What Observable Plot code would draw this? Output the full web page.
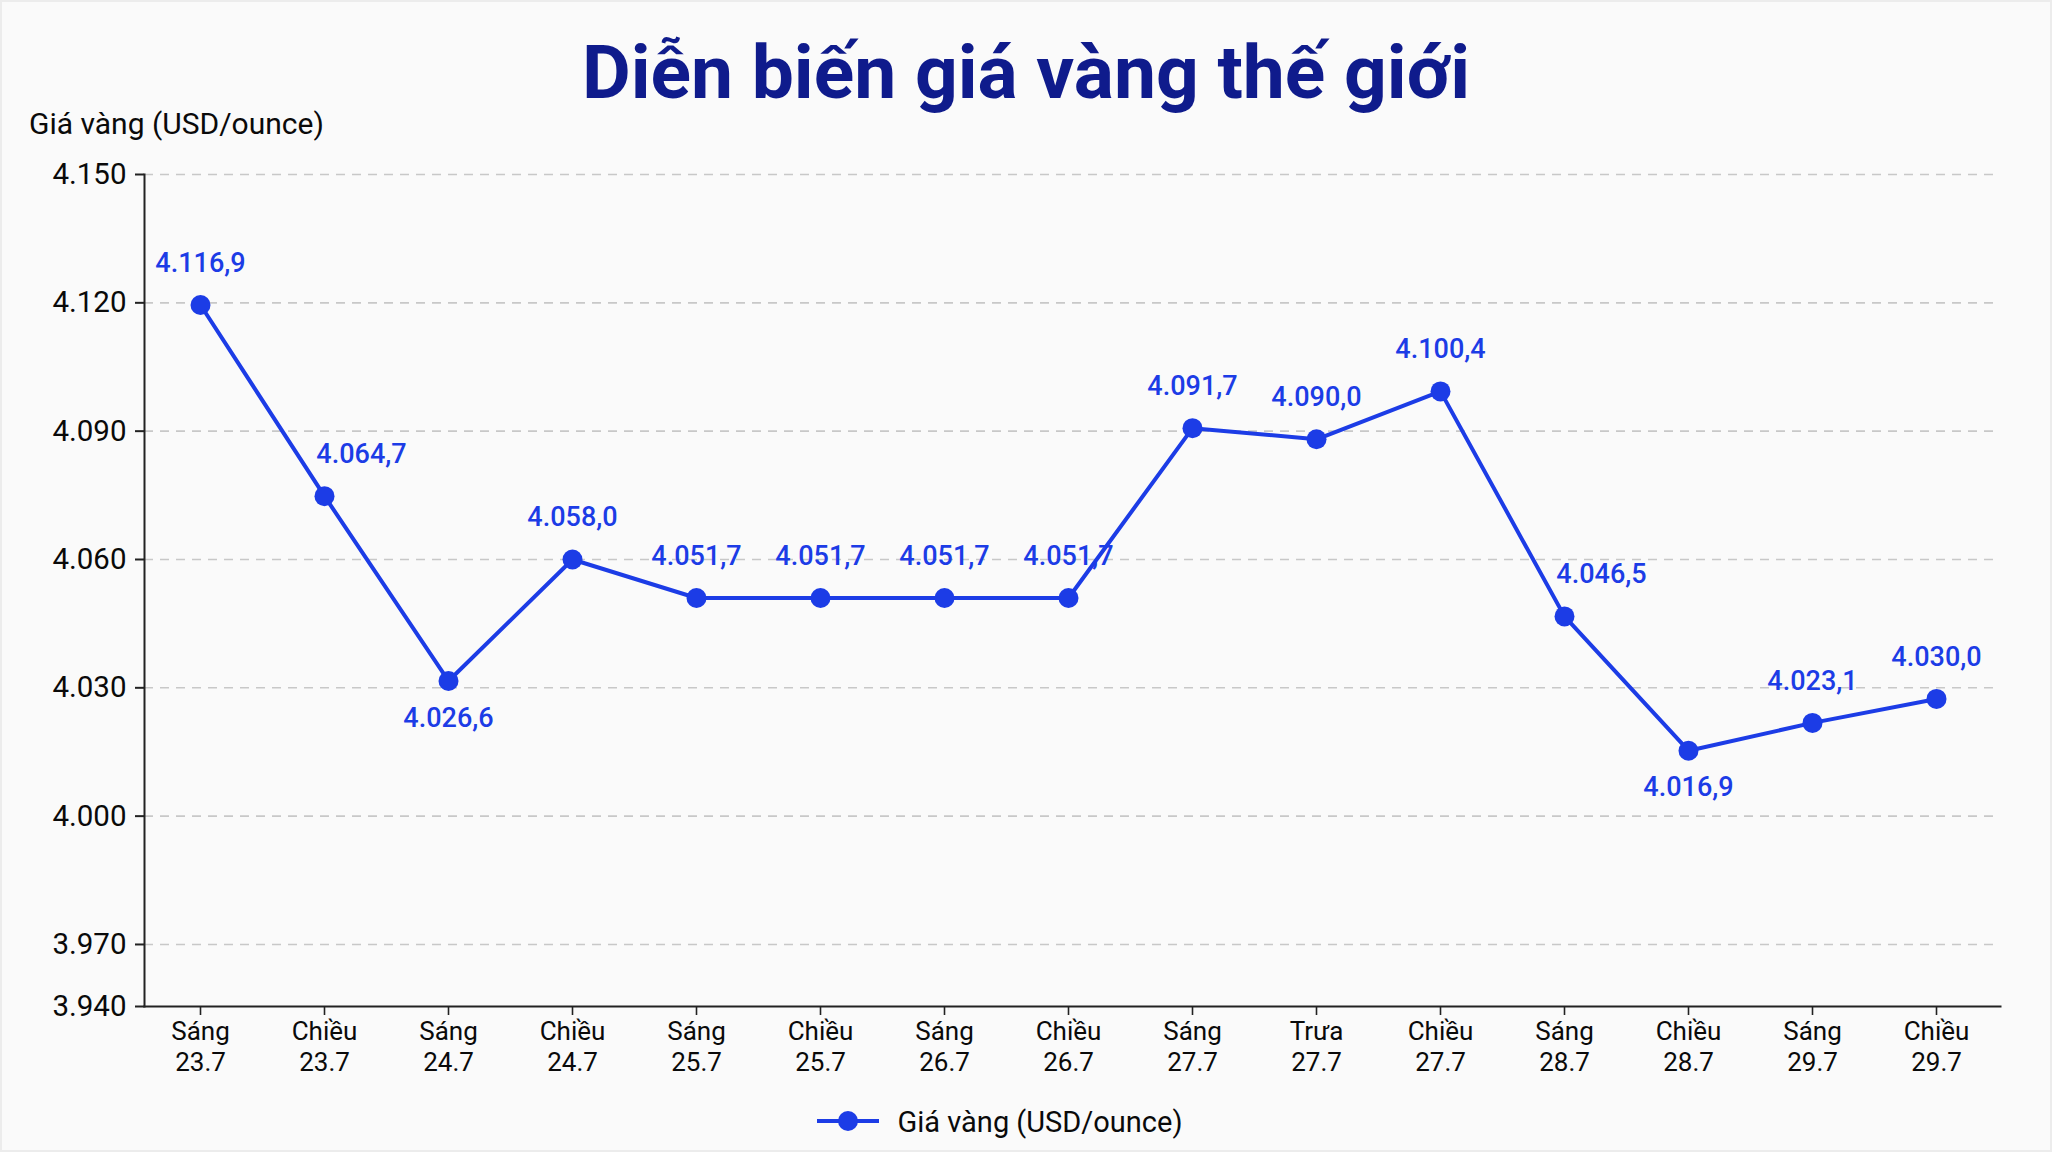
<!DOCTYPE html>
<html>
<head>
<meta charset="utf-8">
<script src="https://cdn.jsdelivr.net/npm/d3@7"></script>
<script src="https://cdn.jsdelivr.net/npm/@observablehq/plot@0.6"></script>
<style>
  html, body { margin: 0; padding: 0; background: #fafafa; }
  #wrap { position: relative; width: 2052px; height: 1152px; background: #fafafa; font-family: Roboto, "Noto Sans", sans-serif; overflow: hidden; box-shadow: inset 0 0 0 2px #ececec; }
  #title { position: absolute; left: 0; width: 2052px; top: 22px; text-align: center; font-size: 75px; font-weight: 700; color: #0f1b8c; line-height: 100px; }
  #ylabel { position: absolute; left: 29px; top: 104px; font-size: 30px; color: #0a0a0a; line-height: 40px; }
  #chart { position: absolute; left: 0; top: 100px; }
  #legend { position: absolute; left: 0; width: 2000px; top: 1100px; text-align: center; font-size: 29px; color: #0a0a0a; line-height: 44px; }
  #legend svg { vertical-align: middle; margin-right: 18px; position: relative; top: -3px; }
</style>
</head>
<body>
<div id="wrap">
  <div id="title">Diễn biến giá vàng thế giới</div>
  <div id="ylabel">Giá vàng (USD/ounce)</div>
  <div id="chart"></div>
  <div id="legend"></div>
</div>
<script>
// ---- data ----
const sessions = ["Sáng", "Chiều", "Sáng", "Chiều", "Sáng", "Chiều", "Sáng", "Chiều", "Sáng", "Trưa", "Chiều", "Sáng", "Chiều", "Sáng", "Chiều"];
const dates = ["23.7", "23.7", "24.7", "24.7", "25.7", "25.7", "26.7", "26.7", "27.7", "27.7", "27.7", "28.7", "28.7", "29.7", "29.7"];
// plotted positions (USD/ounce)
const prices = [4119.5, 4074.8, 4031.6, 4060.0, 4051.0, 4051.0, 4051.0, 4051.0, 4090.7, 4088.1, 4099.3, 4046.7, 4015.3, 4021.8, 4027.4];
// printed value labels
const labelValues = [4116.9, 4064.7, 4026.6, 4058.0, 4051.7, 4051.7, 4051.7, 4051.7, 4091.7, 4090.0, 4100.4, 4046.5, 4016.9, 4023.1, 4030.0];
const labelPlacement = ["above", "right", "below", "above", "above", "above", "above", "above", "above", "above", "above", "right", "below", "above", "above"];
const yTickPositions = [3955.5, 3970, 4000, 4030, 4060, 4090, 4120, 4150];
const yTickLabels = [3940, 3970, 4000, 4030, 4060, 4090, 4120, 4150];
const gridValues = [3970, 4000, 4030, 4060, 4090, 4120, 4150];
const seriesName = "Giá vàng (USD/ounce)";

// ---- build ----
const vn = d3.formatLocale({decimal: ",", thousands: ".", grouping: [3], currency: ["", ""]});
const fmt1 = vn.format(",.1f");
const fmt0 = vn.format(",.0f");

const keys = sessions.map((s, i) => s + "\n" + dates[i]);
const data = keys.map((k, i) => ({key: k, price: prices[i], label: fmt1(labelValues[i]), pos: labelPlacement[i]}));

const blue = "#1c3ce6";
const font = "Roboto, 'Noto Sans', sans-serif";

const chart = Plot.plot({
  width: 2052,
  height: 1000,
  marginTop: 74,
  marginBottom: 94,
  marginLeft: 144,
  marginRight: 52,
  style: {background: "transparent", fontFamily: font, color: "#0a0a0a"},
  x: {type: "point", domain: keys, padding: 0.454, align: 0.469, label: null},
  y: {domain: [yTickPositions[0], 4150], label: null},
  marks: [
    Plot.gridY(gridValues, {stroke: "#c8c8c8", strokeOpacity: 1, strokeWidth: 1.6, strokeDasharray: "9,7"}),
    Plot.frame({anchor: "left", stroke: "#222", strokeWidth: 2}),
    Plot.frame({anchor: "bottom", stroke: "#222", strokeWidth: 2}),
    Plot.axisY({ticks: yTickPositions, tickFormat: (d) => fmt0(yTickLabels[yTickPositions.indexOf(d)]), tickSize: 9, tickPadding: 9, fontSize: 29.5, stroke: "#222", strokeWidth: 2, label: null}),
    Plot.axisX({tickSize: 9, tickPadding: 3, fontSize: 26, lineHeight: 1.18, stroke: "#222", strokeWidth: 1.6, label: null}),
    Plot.line(data, {x: "key", y: "price", stroke: blue, strokeWidth: 4}),
    Plot.dot(data, {x: "key", y: "price", r: 10, fill: blue}),
    Plot.text(data.filter(d => d.pos === "above"), {x: "key", y: "price", text: "label", dy: -42, fill: blue, fontSize: 27, fontWeight: 500}),
    Plot.text(data.filter(d => d.pos === "right"), {x: "key", y: "price", text: "label", dx: 37, dy: -42, fill: blue, fontSize: 27, fontWeight: 500}),
    Plot.text(data.filter(d => d.pos === "below"), {x: "key", y: "price", text: "label", dy: 37, fill: blue, fontSize: 27, fontWeight: 500})
  ]
});
document.getElementById("chart").appendChild(chart);

// legend
const legend = document.getElementById("legend");
legend.innerHTML = `<svg width="62" height="24" viewBox="0 0 62 24"><line x1="0" y1="12" x2="62" y2="12" stroke="${blue}" stroke-width="4"/><circle cx="31" cy="12" r="10" fill="${blue}"/></svg><span>${seriesName}</span>`;
</script>
</body>
</html>
